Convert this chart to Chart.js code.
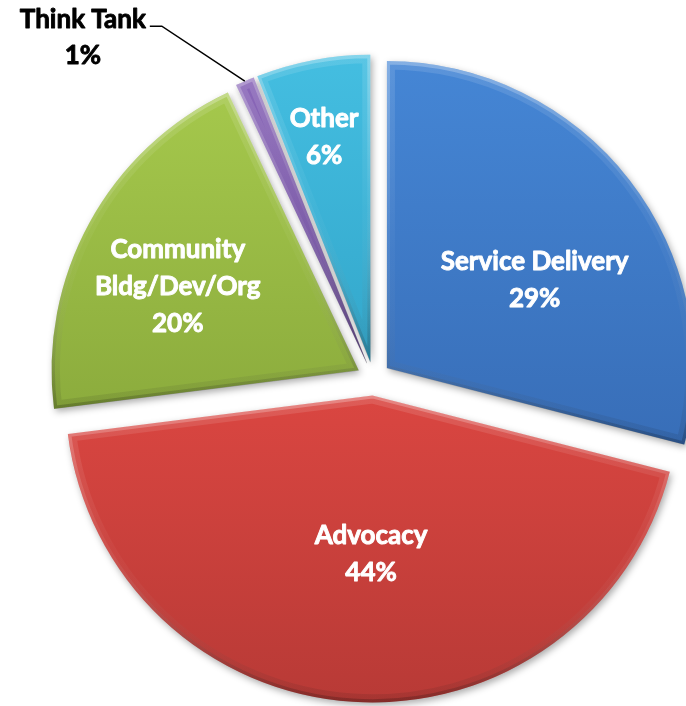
<!DOCTYPE html>
<html>
<head>
<meta charset="utf-8">
<title>Share by category</title>
<script src="https://cdn.jsdelivr.net/npm/chart.js@4/dist/chart.umd.min.js"></script>
<style>
  html, body { margin: 0; padding: 0; background: #ffffff; overflow: hidden; }
  #wrap { position: relative; width: 686px; height: 706px; }
  canvas { display: block; }
</style>
</head>
<body>
<div id="wrap"><canvas id="pie" width="686" height="706"></canvas></div>
<script>
// ---- data ----
const categories = ['Service Delivery', 'Advocacy', 'Community Bldg/Dev/Org', 'Think Tank', 'Other'];
const labelLines = [['Service Delivery'], ['Advocacy'], ['Community', 'Bldg/Dev/Org'], ['Think Tank'], ['Other']];
const shares = [29, 44, 20, 1, 6];

// ---- style ----
const topColors    = ['#4586d5', '#da4641', '#a5c84c', '#8a67b9', '#44bee1'];
const bottomColors = ['#386eb8', '#b83a36', '#8cac3d', '#6b4c97', '#33a7cb'];
// where each label sits, relative to its own slice (fraction of radius, turn in degrees)
const labelPlacement = [
  { r: 0.562, turn: 6.7 },
  { r: 0.513, turn: -3.1 },
  { r: 0.650, turn: -3.8 },
  { callout: { dx: -83, dy: -55, tail: 12 } },
  { r: 0.749, turn: -0.8 }
];
const RADIUS = 307;
const EXPLODE = 17;
const CENTER = { x: 373.5, y: 378.5 };
const W = 686, H = 706;
const FONT = 'Lato, "Open Sans", "DejaVu Sans", sans-serif';

const total = shares.reduce((a, b) => a + b, 0);
const pct = v => Math.round(v / total * 100) + '%';

function verticalExtent(arc) {
  const r = arc.outerRadius;
  const s = arc.startAngle, e = arc.endAngle;
  const ys = [arc.y, arc.y + r * Math.sin(s), arc.y + r * Math.sin(e)];
  [-Math.PI / 2, Math.PI / 2, 3 * Math.PI / 2].forEach(a => {
    if (a > s && a < e) ys.push(arc.y + r * Math.sin(a));
  });
  return [Math.min(...ys), Math.max(...ys)];
}

// pushes each slice out along its bisector and adds the shaded, bevelled look
const explodePlugin = {
  id: 'explodeShade',
  afterDatasetsUpdate(chart) {
    const meta = chart.getDatasetMeta(0);
    meta.data.forEach((arc, i) => {
      if (arc.$wrapped) return;
      arc.$wrapped = true;
      const baseDraw = Chart.ArcElement.prototype.draw;
      arc.draw = function (ctx, area) {
        const mid = (this.startAngle + this.endAngle) / 2;
        const [y0, y1] = verticalExtent(this);
        const fill = ctx.createLinearGradient(0, y0, 0, y1);
        fill.addColorStop(0, topColors[i]);
        fill.addColorStop(1, bottomColors[i]);
        const edge = ctx.createLinearGradient(0, y0, 0, y1);
        edge.addColorStop(0, 'rgba(255,255,255,0.26)');
        edge.addColorStop(0.45, 'rgba(255,255,255,0.06)');
        edge.addColorStop(1, 'rgba(0,0,0,0.20)');
        const edgeSoft = ctx.createLinearGradient(0, y0, 0, y1);
        edgeSoft.addColorStop(0, 'rgba(255,255,255,0.12)');
        edgeSoft.addColorStop(0.5, 'rgba(255,255,255,0.03)');
        edgeSoft.addColorStop(1, 'rgba(0,0,0,0.10)');
        const base = this.options;

        ctx.save();
        ctx.translate(Math.cos(mid) * EXPLODE, Math.sin(mid) * EXPLODE);
        ctx.save();
        ctx.shadowColor = 'rgba(0,0,0,0.33)';
        ctx.shadowBlur = 7;
        ctx.shadowOffsetX = 2;
        ctx.shadowOffsetY = 3;
        this.options = Object.assign({}, base, { backgroundColor: fill, borderWidth: 0 });
        baseDraw.call(this, ctx, area);
        ctx.restore();
        this.options = Object.assign({}, base, {
          backgroundColor: 'rgba(0,0,0,0)', borderColor: edgeSoft, borderWidth: 8, borderAlign: 'inner'
        });
        baseDraw.call(this, ctx, area);
        this.options = Object.assign({}, base, {
          backgroundColor: 'rgba(0,0,0,0)', borderColor: edge, borderWidth: 3, borderAlign: 'inner'
        });
        baseDraw.call(this, ctx, area);
        this.options = base;
        ctx.restore();
      };
    });
  }
};

function heavyText(ctx, text, x, y, color) {
  ctx.fillStyle = color;
  ctx.strokeStyle = color;
  ctx.lineWidth = 0.9;
  ctx.lineJoin = 'round';
  ctx.strokeText(text, x, y);
  ctx.fillText(text, x, y);
}

// category names and percentages
const labelPlugin = {
  id: 'sliceLabels',
  afterDatasetsDraw(chart) {
    const ctx = chart.ctx;
    const meta = chart.getDatasetMeta(0);
    meta.data.forEach((arc, i) => {
      const mid = (arc.startAngle + arc.endAngle) / 2;
      const ox = arc.x + Math.cos(mid) * EXPLODE;
      const oy = arc.y + Math.sin(mid) * EXPLODE;
      const lines = labelLines[i].concat([pct(shares[i])]);
      const p = labelPlacement[i];
      ctx.save();
      ctx.textAlign = 'center';
      ctx.textBaseline = 'alphabetic';
      if (p.callout) {
        const size = 26, gap = 36;
        const px = ox + Math.cos(mid) * arc.outerRadius;
        const py = oy + Math.sin(mid) * arc.outerRadius;
        const ex = px + p.callout.dx, ey = py + p.callout.dy;
        const tx = ex - p.callout.tail;
        ctx.strokeStyle = '#000000';
        ctx.lineWidth = 1.5;
        ctx.beginPath();
        ctx.moveTo(px, py);
        ctx.lineTo(ex, ey);
        ctx.lineTo(tx, ey);
        ctx.stroke();
        ctx.font = 'bold ' + size + 'px ' + FONT;
        const w = Math.max(...lines.map(l => ctx.measureText(l).width));
        const cx = tx - 4 - w / 2;
        const firstCap = ey - 7.5;
        lines.forEach((l, k) => heavyText(ctx, l, cx, firstCap + k * gap + 0.358 * size, '#000000'));
      } else {
        const size = 26, gap = 37;
        const a = mid + p.turn * Math.PI / 180;
        const cx = ox + Math.cos(a) * arc.outerRadius * p.r;
        const cy = oy + Math.sin(a) * arc.outerRadius * p.r;
        ctx.font = 'bold ' + size + 'px ' + FONT;
        const startY = cy - (lines.length - 1) * gap / 2;
        lines.forEach((l, k) => heavyText(ctx, l, cx, startY + k * gap + 0.358 * size, '#ffffff'));
      }
      ctx.restore();
    });
  }
};

new Chart(document.getElementById('pie'), {
  type: 'pie',
  data: {
    labels: categories,
    datasets: [{
      data: shares,
      backgroundColor: topColors,
      borderWidth: 0,
      clip: false
    }]
  },
  options: {
    responsive: false,
    animation: false,
    events: [],
    radius: RADIUS,
    layout: { padding: { left: 2 * CENTER.x - W, right: 0, top: 2 * CENTER.y - H, bottom: 0 } },
    plugins: { legend: { display: false }, tooltip: { enabled: false } }
  },
  plugins: [explodePlugin, labelPlugin]
});
</script>
</body>
</html>
